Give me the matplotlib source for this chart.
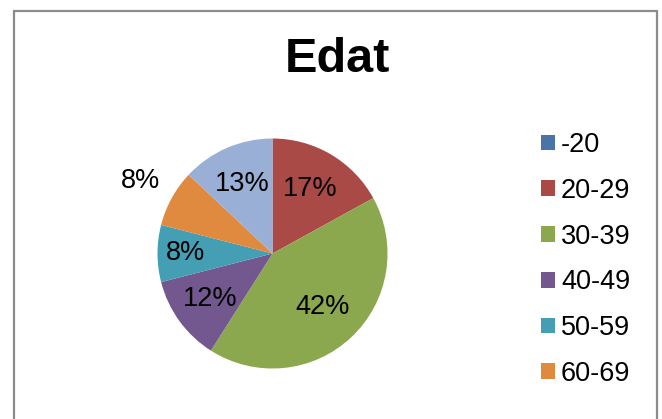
import matplotlib
matplotlib.use("Agg")
import matplotlib.pyplot as plt
from matplotlib.patches import Rectangle
import numpy as np

plt.rcParams['font.family'] = ['Liberation Sans', 'DejaVu Sans']

title = "Edat"
categories = ["-20", "20-29", "30-39", "40-49", "50-59", "60-69", "70+"]
values = [0, 17, 42, 12, 8, 8, 13]
labels = ["", "17%", "42%", "12%", "8%", "8%", "13%"]
legend_count = 6  # only six entries visible in the reference legend

colors = ["#4A74A8", "#A94A47", "#8CA84E", "#72588F", "#449FB4", "#E08A40", "#9AAFD6"]
label_dist = [0.65, 0.65, 0.64, 0.67, 0.76, 1.31, 0.66]

W, H = 662, 419
fig = plt.figure(figsize=(W / 100, H / 100), dpi=100)
fig.patch.set_facecolor("white")

# outer chart frame
fig.patches.append(Rectangle((14 / W, -0.05), (657 - 14) / W, (H - 11) / H + 0.05,
                             transform=fig.transFigure, fill=False,
                             edgecolor="#8C8C8C", linewidth=1.6))

cx, cy, r = 272.5, H - 253.5, 115
ax = fig.add_axes([(cx - r) / W, (cy - r) / H, 2 * r / W, 2 * r / H])
wedges, _ = ax.pie(values, colors=colors, startangle=90, counterclock=False,
                   radius=1.0, wedgeprops=dict(linewidth=0))
ax.set_xlim(-1, 1)
ax.set_ylim(-1, 1)
ax.set_aspect("equal")
ax.axis("off")

for w, lab, d in zip(wedges, labels, label_dist):
    if not lab:
        continue
    ang = np.deg2rad((w.theta1 + w.theta2) / 2)
    ax.text(d * np.cos(ang), d * np.sin(ang), lab, ha="center", va="center",
            fontsize=19.5, color="#000000", clip_on=False)

fig.text(337 / W, 1 - 60 / H, title, ha="center", va="center",
         fontsize=35, fontweight="bold")

fig.legend(wedges[:legend_count], categories[:legend_count],
           loc="upper left", bbox_to_anchor=(541 / W, 1 - 132 / H),
           frameon=False, fontsize=19.5, handlelength=0.52, handleheight=0.52,
           handletextpad=0.22, labelspacing=0.73, borderaxespad=0, borderpad=0)

fig.savefig("out.png", dpi=100, facecolor="white")
